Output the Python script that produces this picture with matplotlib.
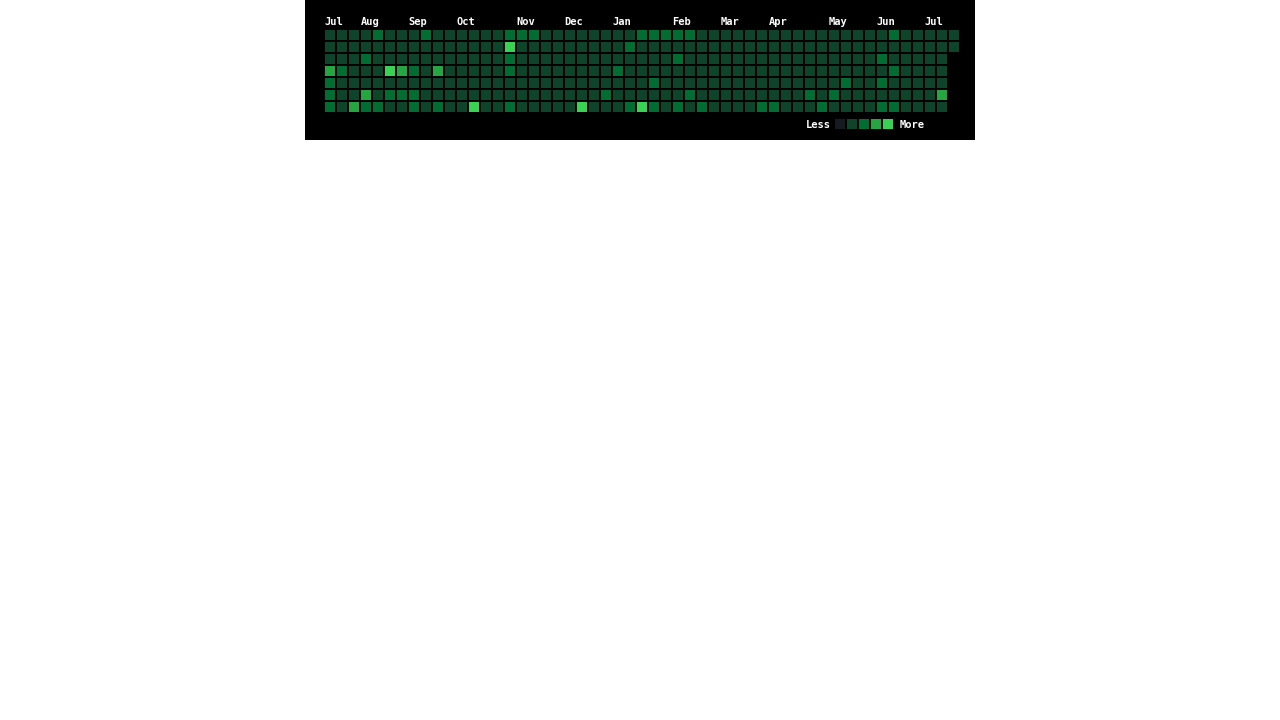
import matplotlib
matplotlib.use('Agg')
import matplotlib.pyplot as plt
from matplotlib.patches import Rectangle

# contribution level per week, one digit per weekday (Sun..Sat)
weeks = [
    "1113222", "1112111", "1111113", "1121132", "2111112", "1114121", "1113121",
    "1112122", "2111111", "1113112", "1111111", "1111111", "1111114", "1111111",
    "1111111", "2422112", "2111111", "2111111", "1111111", "1111111", "1111111",
    "1111114", "1111111", "1111121", "1112111", "1211112", "2111114", "2111212",
    "2111111", "2121112", "2111121", "1111112", "1111111", "1111111", "1111111",
    "1111111", "1111112", "1111112", "1111111", "1111111", "1111121", "1111112",
    "1111121", "1111211", "1111111", "1111111", "1121212", "2112112", "1111111",
    "1111111", "1111111", "1111131", "11",
]
months = ["Jul", "Aug", "Sep", "Oct", "Nov", "Dec", "Jan",
          "Feb", "Mar", "Apr", "May", "Jun", "Jul"]
month_weeks = [0, 3, 7, 11, 16, 20, 24, 29, 33, 37, 42, 46, 50]
level_colors = ["#161b22", "#0e4429", "#006d32", "#26a641", "#39d353"]

W, H = 1280, 720
fig = plt.figure(figsize=(W / 100, H / 100), dpi=100)
fig.patch.set_facecolor('white')

# black panel, one unit = one cell pitch (12 px)
ax = fig.add_axes([305 / W, 1 - 140 / H, 670 / W, 140 / H])
ax.set_facecolor('black')
ax.set_xlim(-20 / 12, 650 / 12)
ax.set_ylim(110 / 12, -30 / 12)
ax.axis('off')
ax.add_patch(Rectangle((-20 / 12, -30 / 12), 670 / 12, 140 / 12,
                       facecolor='black', edgecolor='none', zorder=0))

size = 10 / 12
for w, col in enumerate(weeks):
    for d, lvl in enumerate(col):
        ax.add_patch(Rectangle((w, d), size, size, facecolor=level_colors[int(lvl)],
                               edgecolor='none'))

font = dict(family='DejaVu Sans Mono', fontweight='bold', fontsize=7.5, color='white')
for name, w in zip(months, month_weeks):
    ax.text(w - 0.05, -0.66, name, ha='left', va='center', **font)

# legend
ly = 89 / 12
lx = 510 / 12
ax.text(lx - 0.35, ly + size / 2 + 0.1, "Less", ha='right', va='center', **font)
for i, c in enumerate(level_colors):
    ax.add_patch(Rectangle((lx + i, ly), size, size, facecolor=c, edgecolor='none'))
ax.text(lx + 5.35, ly + size / 2 + 0.1, "More", ha='left', va='center', **font)

fig.savefig('out.png', dpi=100, facecolor='white')
